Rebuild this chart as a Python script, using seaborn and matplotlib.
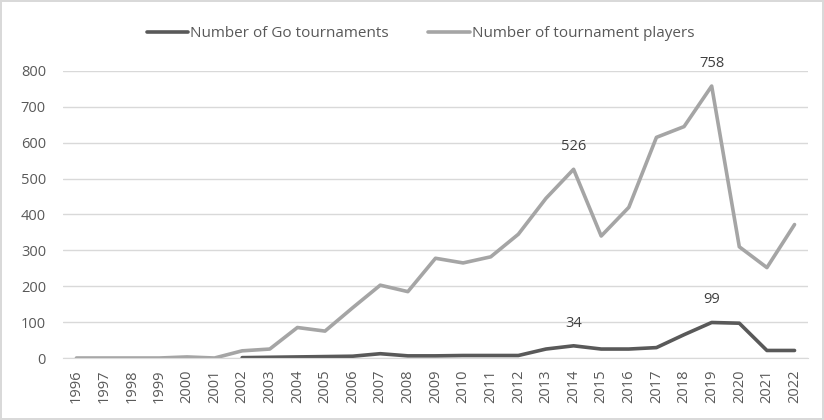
import pandas as pd
import matplotlib.pyplot as plt
import seaborn as sns

sns.set_style("white")
plt.rcParams['font.family'] = ['Open Sans', 'DejaVu Sans']

years = list(range(1996, 2023))
players = [0, 0, 0, 0, 3, 0, 20, 25, 85, 75, 140, 203, 185, 278, 265, 282,
           345, 445, 526, 340, 420, 615, 645, 758, 310, 252, 372]
tourn_years = list(range(2002, 2023))
tournaments = [1, 2, 3, 4, 5, 12, 6, 6, 7, 7, 7, 25, 34, 25, 25, 29, 65, 99, 97, 21, 21]

df_p = pd.DataFrame({'Year': years, 'Players': players})
df_t = pd.DataFrame({'Year': tourn_years, 'Tournaments': tournaments})

fig = plt.figure(figsize=(8.24, 4.2), dpi=100)
fig.patch.set_edgecolor('#d9d9d9')
fig.patch.set_linewidth(1.5)
ax = fig.add_axes([0.076, 0.1476, 0.905, 0.6834])

dark = '#595959'
light = '#a5a5a5'
sns.lineplot(data=df_t, x='Year', y='Tournaments', color=dark, linewidth=2.6,
             ax=ax, label='Number of Go tournaments')
sns.lineplot(data=df_p, x='Year', y='Players', color=light, linewidth=2.6,
             ax=ax, label='Number of tournament players')

ax.set_xlim(1995.5, 2022.5)
ax.set_ylim(0, 800)
ax.set_xticks(years)
ax.set_xticklabels([str(y) for y in years], rotation=90, fontsize=10.5, color='#595959')
ax.set_yticks(range(0, 801, 100))
ax.set_yticklabels([str(v) for v in range(0, 801, 100)], fontsize=10.5, color='#595959')
ax.tick_params(axis='y', length=0, pad=12)
ax.tick_params(axis='x', length=0, pad=8)
ax.yaxis.grid(True, color='#d9d9d9', linewidth=1)
for s in ['top', 'right', 'left']:
    ax.spines[s].set_visible(False)
ax.spines['bottom'].set_color('#d9d9d9')
ax.set_xlabel('')
ax.set_ylabel('')

# data labels
for yr, val in [(2014, 526), (2019, 758)]:
    ax.annotate(str(val), (yr, val), xytext=(0, 11), textcoords='offset points',
                ha='center', va='bottom', fontsize=10.5, color='#404040')
for yr, val in [(2014, 34), (2019, 99)]:
    ax.annotate(str(val), (yr, val), xytext=(0, 11), textcoords='offset points',
                ha='center', va='bottom', fontsize=10.5, color='#404040')

leg = ax.legend(loc='center', bbox_to_anchor=(0.48, 1.13), ncol=2, frameon=False,
                fontsize=11, handlelength=2.7, handletextpad=0.15, columnspacing=2.6)
for t in leg.get_texts():
    t.set_color('#595959')

fig.savefig('out.png', dpi=100)
